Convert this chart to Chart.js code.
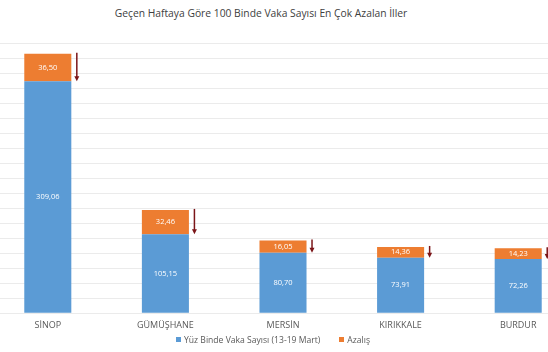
<!DOCTYPE html>
<html>
<head>
<meta charset="utf-8">
<script src="https://cdn.jsdelivr.net/npm/chart.js@4"></script>
<style>
  body { margin: 0; background: #fff; font-family: "Open Sans", sans-serif; }
  #wrap { position: relative; width: 548px; height: 352px; overflow: hidden; background: #fff; }
  #title { position: absolute; top: 6px; left: 0; width: 522px; text-align: center; font-size: 10.3px; color: #404040; }
  #chartBox { position: absolute; left: -11px; top: 0; width: 588px; height: 352px; }
  #legend { position: absolute; top: 334px; left: 176px; font-size: 8.6px; color: #595959; white-space: nowrap; }
  #legend span.box { display: inline-block; width: 5px; height: 5px; margin-right: 3px; vertical-align: 1px; }
</style>
</head>
<body>
<div id="wrap">
  <div id="title">Geçen Haftaya Göre 100 Binde Vaka Sayısı En Çok Azalan İller</div>
  <div id="chartBox"><canvas id="chart"></canvas></div>
  <div id="legend"></div>
</div>
<script>
const provinces = ["SİNOP", "GÜMÜŞHANE", "MERSİN", "KIRIKKALE", "BURDUR"];
const caseRate = [309.06, 105.15, 80.70, 73.91, 72.26];
const decrease = [36.50, 32.46, 16.05, 14.36, 14.23];
const seriesNames = ["Yüz Binde Vaka Sayısı (13-19 Mart)", "Azalış"];
const seriesColors = ["#5B9BD5", "#ED7D31"];

// legend in html, chart is shifted left so it can't center it right
const legend = document.getElementById('legend');
seriesNames.forEach((n, i) => {
  const item = document.createElement('span');
  item.style.marginRight = '19px';
  item.innerHTML = `<span class="box" style="background:${seriesColors[i]}"></span>${n}`;
  legend.appendChild(item);
});

function fmt(v) {
  return v.toFixed(2).replace('.', ',');
}

const valueLabels = {
  id: 'valueLabels',
  afterDatasetsDraw(chart) {
    const ctx = chart.ctx;
    ctx.save();
    ctx.fillStyle = '#fff';
    ctx.font = '7.5px "Open Sans", sans-serif';
    ctx.textAlign = 'center';
    ctx.textBaseline = 'middle';
    chart.data.datasets.forEach((ds, di) => {
      chart.getDatasetMeta(di).data.forEach((bar, i) => {
        const mid = (bar.y + bar.base) / 2;
        ctx.fillText(fmt(ds.data[i]), bar.x, mid);
      });
    });
    ctx.restore();
  }
};

const arrows = {
  id: 'arrows',
  afterDatasetsDraw(chart) {
    const ctx = chart.ctx;
    const blue = chart.getDatasetMeta(0).data;
    const orange = chart.getDatasetMeta(1).data;
    ctx.save();
    ctx.strokeStyle = '#7B1518';
    ctx.fillStyle = '#7B1518';
    ctx.lineWidth = 1.5;
    orange.forEach((bar, i) => {
      const x = bar.x + bar.width / 2 + 5.5;
      const y0 = bar.y - 1;
      const y1 = blue[i].y;
      ctx.beginPath();
      ctx.moveTo(x, y0);
      ctx.lineTo(x, y1 - 4);
      ctx.stroke();
      ctx.beginPath();
      ctx.moveTo(x - 2.5, y1 - 5);
      ctx.lineTo(x + 2.5, y1 - 5);
      ctx.lineTo(x, y1);
      ctx.closePath();
      ctx.fill();
    });
    ctx.restore();
  }
};

new Chart(document.getElementById('chart'), {
  type: 'bar',
  data: {
    labels: provinces,
    datasets: [
      { label: seriesNames[0], data: caseRate, backgroundColor: seriesColors[0] },
      { label: seriesNames[1], data: decrease, backgroundColor: seriesColors[1] }
    ]
  },
  options: {
    responsive: true,
    maintainAspectRatio: false,
    animation: false,
    datasets: { bar: { barPercentage: 0.4, categoryPercentage: 1 } },
    layout: { padding: { top: 43, bottom: 14, left: 0, right: 0 } },
    plugins: {
      legend: { display: false },
      title: { display: false },
      tooltip: { enabled: false }
    },
    scales: {
      x: {
        stacked: true,
        grid: { display: false, drawTicks: false },
        border: { display: false },
        ticks: { color: '#595959', font: { size: 9, family: '"Open Sans", sans-serif' }, padding: 7 }
      },
      y: {
        stacked: true,
        min: 0,
        max: 360,
        ticks: { display: false, stepSize: 20 },
        grid: { color: '#ebebeb', drawTicks: false },
        border: { display: false }
      }
    }
  },
  plugins: [valueLabels, arrows]
});
</script>
</body>
</html>
